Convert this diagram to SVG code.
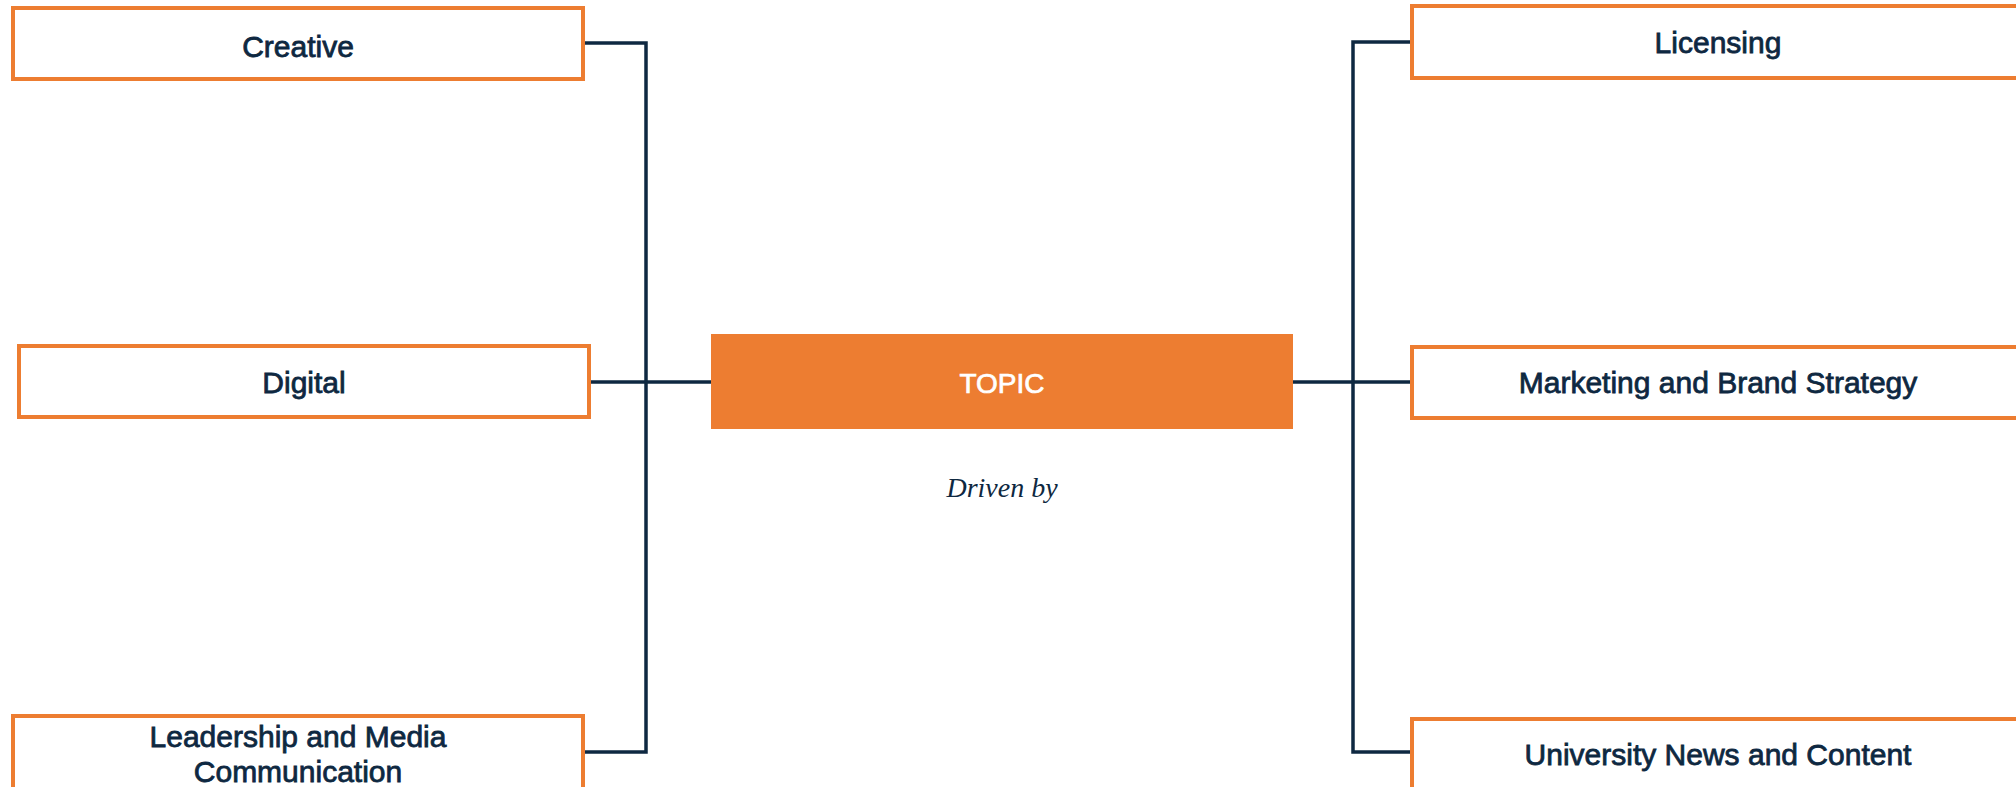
<svg xmlns="http://www.w3.org/2000/svg" width="2016" height="787" viewBox="0 0 2016 787">
<style>
.box{fill:#ffffff;stroke:#ED7D31;stroke-width:4}
.lbl{font-family:"Liberation Sans",Arial,sans-serif;font-size:30px;fill:#0E2841;stroke:#0E2841;stroke-width:0.8;text-anchor:middle}
.conn{fill:none;stroke:#0E2841;stroke-width:3.5}
</style>
<rect width="2016" height="787" fill="#ffffff"/>
<g id="connectors">
<polyline class="conn" points="585,43 646,43 646,752 585,752"/>
<line class="conn" x1="591" y1="382" x2="711" y2="382"/>
<polyline class="conn" points="1412,42 1353,42 1353,752 1412,752"/>
<line class="conn" x1="1293" y1="382" x2="1412" y2="382"/>
</g>
<g id="topic">
<rect x="711" y="334" width="582" height="95" fill="#ED7D31"/>
<text x="1002" y="393" style="font-family:'Liberation Sans',Arial,sans-serif;font-size:28px;fill:#ffffff;stroke:#ffffff;stroke-width:0.7;text-anchor:middle">TOPIC</text>
</g>
<g id="driven-by">
<text x="1002" y="497" style="font-family:'Liberation Serif','Times New Roman',serif;font-style:italic;font-size:28px;fill:#0E2841;text-anchor:middle">Driven by</text>
</g>
<g id="creative">
<rect class="box" x="13" y="8" width="570" height="71"/>
<text class="lbl" x="298" y="57">Creative</text>
</g>
<g id="digital">
<rect class="box" x="19" y="346" width="570" height="71"/>
<text class="lbl" x="304" y="393">Digital</text>
</g>
<g id="leadership">
<rect class="box" x="13" y="716" width="570" height="100"/>
<text class="lbl" x="298" y="747">Leadership and Media</text>
<text class="lbl" x="298" y="782">Communication</text>
</g>
<g id="licensing">
<rect class="box" x="1412" y="6" width="612" height="72"/>
<text class="lbl" x="1718" y="53">Licensing</text>
</g>
<g id="marketing">
<rect class="box" x="1412" y="347" width="612" height="71"/>
<text class="lbl" x="1718" y="393">Marketing and Brand Strategy</text>
</g>
<g id="university">
<rect class="box" x="1412" y="719" width="612" height="100"/>
<text class="lbl" x="1718" y="765">University News and Content</text>
</g>
</svg>
